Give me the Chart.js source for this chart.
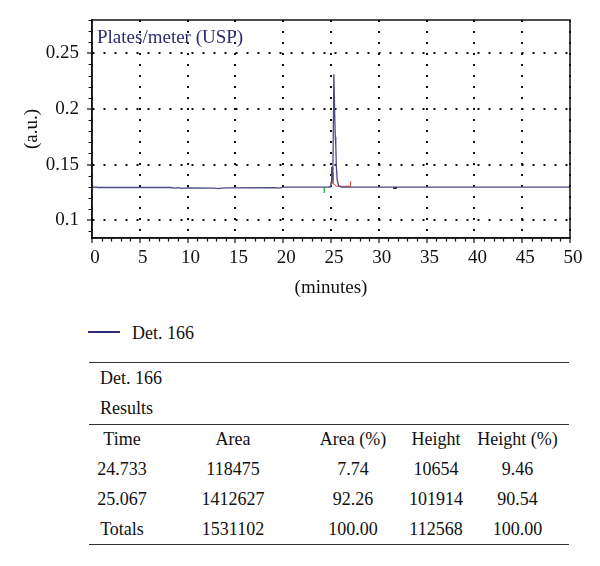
<!DOCTYPE html>
<html>
<head>
<meta charset="utf-8">
<script src="https://cdn.jsdelivr.net/npm/chart.js@4.4.1/dist/chart.umd.min.js"></script>
<style>
    body { margin: 0; background: #fff; font-family: "Liberation Serif", serif; color: #111; }
    #wrap { position: relative; width: 600px; height: 566px; }
    #chart { position: absolute; left: 0; top: 0; }
    .legend-line { position: absolute; left: 88px; top: 331px; width: 32px; height: 1.5px; background: #2d2d7a; }
    .legend-text { position: absolute; left: 132px; top: 322px; font-size: 18px; line-height: 22px; }
    table { position: absolute; left: 89px; top: 362px; width: 480px; border-collapse: collapse; table-layout: fixed; font-size: 18px; }
    td { padding: 0; text-align: center; white-space: nowrap; }
    tr.top td { border-top: 1.5px solid #333; }
    tr.bottom td { border-bottom: 1.5px solid #333; }
    td.label { text-align: left; padding-left: 11px; }
    td.last { padding-right: 11px; }
</style>
</head>
<body>
<div id="wrap">
    <canvas id="chart" width="600" height="305"></canvas>
    <div class="legend-line"></div>
    <div class="legend-text">Det. 166</div>
    <table id="results">
        <colgroup><col style="width:66px"><col style="width:156px"><col style="width:84px"><col style="width:82px"><col style="width:92px"></colgroup>
    </table>
</div>
<script>
// Axis ticks
const xTicks = [0, 5, 10, 15, 20, 25, 30, 35, 40, 45, 50];
const xTickLabels = ['0', '5', '10', '15', '20', '25', '30', '35', '40', '45', '50'];
const yTicks = [0.1, 0.15, 0.2, 0.25];
const yTickLabels = ['0.1', '0.15', '0.2', '0.25'];

// Detector trace (minutes, a.u.)
const traceX = [0, 0.3, 0.6, 5, 8.2, 8.6, 9.0, 9.4, 10, 12.8, 13.2, 13.6, 14, 19.2, 19.6, 20, 24.6, 24.95, 25.02, 25.07, 25.12, 25.2, 25.3, 25.4, 25.45, 25.5, 25.55, 25.65, 25.8, 26.1, 31, 50];
const traceY = [0.1292, 0.1299, 0.1294, 0.1294, 0.1294, 0.1289, 0.1293, 0.1287, 0.1290, 0.1288, 0.1284, 0.1289, 0.1290, 0.1292, 0.1288, 0.1297, 0.1297, 0.1300, 0.1340, 0.1480, 0.1360, 0.1450, 0.2313, 0.1900, 0.1750, 0.1680, 0.1500, 0.1360, 0.1310, 0.1298, 0.1297, 0.1297];

// Integration marks
const redX = [24.7, 25.0, 25.12, 25.2, 25.6, 27.05, 27.05];
const redY = [0.1297, 0.1305, 0.1430, 0.1330, 0.1305, 0.1305, 0.1350];
const greenX = [24.3, 24.3];
const greenY = [0.1297, 0.1245];
const markX = [31.5, 31.9];
const markY = [0.1290, 0.1290];

// Results table
const tableHeader = ['Time', 'Area', 'Area (%)', 'Height', 'Height (%)'];
const tableRows = [
    ['24.733', '118475', '7.74', '10654', '9.46'],
    ['25.067', '1412627', '92.26', '101914', '90.54'],
    ['Totals', '1531102', '100.00', '112568', '100.00']
];

const pts = (xs, ys) => xs.map((x, i) => ({ x: x, y: ys[i] }));
const FONT = { family: 'Liberation Serif', size: 19 };

// Frame, minor ticks and inside label
const decorations = {
    id: 'decorations',
    afterDraw(chart) {
        const { ctx, chartArea: a, scales: { x, y } } = chart;
        ctx.save();
        ctx.setLineDash([]);
        ctx.strokeStyle = '#111';
        ctx.lineWidth = 1.2;
        ctx.beginPath();
        for (let m = 1; m < 50; m++) {
            if (m % 5 === 0) continue;
            const px = Math.round(x.getPixelForValue(m)) + 0.5;
            ctx.moveTo(px, a.bottom);
            ctx.lineTo(px, a.bottom + 3.5);
        }
        for (let k = 9; k <= 28; k++) {
            if (k % 5 === 0) continue;
            const py = Math.round(y.getPixelForValue(k / 100)) + 0.5;
            ctx.moveTo(a.left, py);
            ctx.lineTo(a.left - 3.5, py);
        }
        ctx.stroke();
        ctx.lineWidth = 1.5;
        ctx.strokeRect(a.left, a.top, a.right - a.left, a.bottom - a.top);
        ctx.fillStyle = '#2d2d6e';
        ctx.font = '19px "Liberation Serif"';
        ctx.textBaseline = 'middle';
        ctx.fillText('Plates/meter (USP)', a.left + 5, a.top + 18);
        ctx.restore();
    }
};

new Chart(document.getElementById('chart'), {
    type: 'scatter',
    data: {
        datasets: [
            { data: pts(traceX, traceY), showLine: true, borderColor: '#4a4a85', borderWidth: 1.3, pointRadius: 0 },
            { data: pts(redX, redY), showLine: true, borderColor: '#e03a3a', borderWidth: 1, pointRadius: 0 },
            { data: pts(greenX, greenY), showLine: true, borderColor: '#3cc03c', borderWidth: 1, pointRadius: 0 },
            { data: pts(markX, markY), showLine: true, borderColor: '#222', borderWidth: 2, pointRadius: 0 }
        ]
    },
    options: {
        responsive: false,
        animation: false,
        layout: { padding: { left: 0, right: 30, top: 20, bottom: 0 } },
        plugins: { legend: { display: false }, tooltip: { enabled: false } },
        scales: {
            x: {
                type: 'linear',
                min: 0,
                max: 50,
                afterFit: s => { s.height = 67; },
                afterBuildTicks: s => { s.ticks = xTicks.map(v => ({ value: v })); },
                ticks: {
                    font: FONT, color: '#111', padding: 4, maxRotation: 0, autoSkip: false, labelOffset: 3,
                    callback: (v) => xTickLabels[xTicks.indexOf(v)]
                },
                grid: { color: '#111', lineWidth: 2, tickLength: 5, tickColor: '#111', tickWidth: 1.2 },
                border: { color: '#111', width: 1.5, dash: [2, 9] },
                title: { display: true, text: '(minutes)', font: FONT, color: '#111', padding: { top: 0, bottom: 6 } }
            },
            y: {
                type: 'linear',
                min: 0.084,
                max: 0.28,
                afterFit: s => { s.width = 92; },
                afterBuildTicks: s => { s.ticks = yTicks.map(v => ({ value: v })); },
                ticks: {
                    font: FONT, color: '#111', padding: 8, autoSkip: false,
                    callback: (v) => yTickLabels[yTicks.indexOf(v)]
                },
                grid: { color: '#111', lineWidth: 2, tickLength: 5, tickColor: '#111', tickWidth: 1.2 },
                border: { color: '#111', width: 1.5, dash: [2, 9] },
                title: { display: true, text: '(a.u.)', font: FONT, color: '#111', padding: { top: 21, bottom: 0 } }
            }
        }
    },
    plugins: [decorations]
});

// Build the results table
const table = document.getElementById('results');
function addRow(cells, cls, height, labelRow) {
    const tr = document.createElement('tr');
    if (cls) tr.className = cls;
    tr.style.height = height + 'px';
    cells.forEach((c, i) => {
        const td = document.createElement('td');
        td.textContent = c;
        if (labelRow) { td.colSpan = 5; td.className = 'label'; }
        else if (i === 4) td.className = 'last';
        tr.appendChild(td);
    });
    table.appendChild(tr);
}
addRow(['Det. 166'], 'top', 31, true);
addRow(['Results'], '', 31, true);
addRow(tableHeader, 'top', 30, false);
addRow(tableRows[0], '', 30, false);
addRow(tableRows[1], '', 30, false);
addRow(tableRows[2], 'bottom', 30, false);
</script>
</body>
</html>
